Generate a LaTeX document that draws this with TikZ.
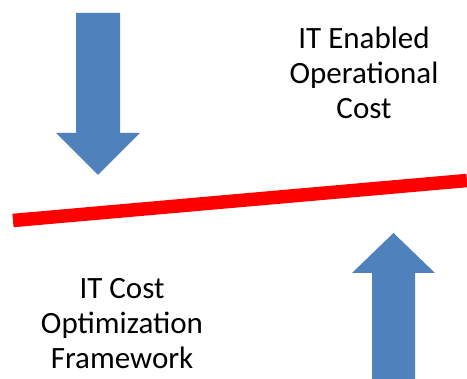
\documentclass[tikz,border=0pt]{standalone}
\usepackage{fontspec}
\setmainfont{Carlito}
\definecolor{arrowblue}{HTML}{4F81BD}
\begin{document}
\begin{tikzpicture}[x=1pt,y=-1pt,
  bigarrow/.style={fill=arrowblue,draw=none},
  costlabel/.style={align=center,text=black,inner sep=0pt,font=\fontsize{31}{35}\selectfont}]
 \useasboundingbox (0,0) rectangle (467,379);
 \fill[bigarrow](76,13)--(120,13)--(120,133)--(140,133)--(98,175)--(56,133)--(76,133)--cycle;
 \fill[bigarrow](372,379)--(372,273)--(352,273)--(393.5,233)--(435,273)--(415,273)--(415,379)--cycle;
 \draw[red,line width=13.5pt](13,220.5)--(467,180.5);
 \node[costlabel] (enabled) at (364,73) {IT Enabled\\Operational\\Cost};
 \node[costlabel] (framework) at (122,323.5) {IT Cost\\Optimization\\Framework};
\end{tikzpicture}
\end{document}
